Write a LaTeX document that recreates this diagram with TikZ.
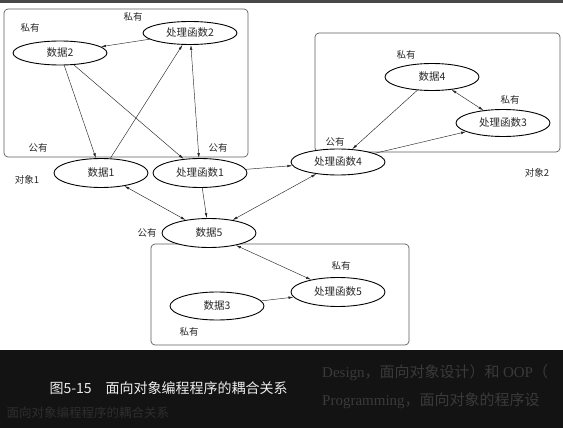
\documentclass[tikz,border=0pt]{standalone}
\usepackage{fontspec}
\setmainfont{Noto Sans CJK SC}
\newfontfamily\latinserif{Liberation Serif}
\usetikzlibrary{arrows.meta,shapes.geometric}
\definecolor{figK}{RGB}{40,40,40}
\definecolor{figBox}{RGB}{95,95,95}
\definecolor{figBand}{RGB}{19,19,19}
\definecolor{figTop}{RGB}{72,72,72}
\definecolor{figCap}{RGB}{236,236,236}
\definecolor{figDim}{RGB}{58,58,58}

\begin{document}
\begin{tikzpicture}[x=1pt,y=-1pt,>={Latex[length=5pt,width=2.6pt]},
  obj/.style={draw=black,fill=white,line width=0.9pt,ellipse,minimum width=94pt,minimum height=27pt,inner sep=0pt,font=\fontsize{10.5}{12}\selectfont,text=figK},
  lab/.style={font=\fontsize{9.5}{11}\selectfont,text=figK},
  box/.style={draw=figBox,line width=0.7pt,rounded corners=4pt},
  link/.style={figK,line width=0.45pt},
  dim/.style={anchor=west,text=figDim,font=\fontsize{15}{18}\selectfont,inner sep=0pt}]
\useasboundingbox (0,0) rectangle (563,428);
\fill[white] (0,0) rectangle (563,428);
\fill[figTop] (0,0) rectangle (563,3);
% objects
\draw[box] (4,9) rectangle (248,157);
\draw[box] (315,33) rectangle (560,152);
\draw[box] (151,244) rectangle (409,345);
\node[obj,minimum height=23pt] (func2) at (190,33) {处理函数2};
\node[obj,minimum height=24pt] (data2) at (60,53) {数据2};
\node[obj,minimum height=29pt] (data1) at (101,173) {数据1};
\node[obj,minimum height=29pt] (func1) at (200,173) {处理函数1};
\node[obj] (data4) at (432,77) {数据4};
\node[obj] (func3) at (503,123) {处理函数3};
\node[obj,minimum height=26pt] (func4) at (338,162) {处理函数4};
\node[obj,minimum height=29pt] (data5) at (209,233) {数据5};
\node[obj,minimum height=28pt] (data3) at (217,306) {数据3};
\node[obj,minimum height=29pt] (func5) at (338,292) {处理函数5};
% labels
\node[lab] (pri1) at (133,17) {私有};
\node[lab] (pri2) at (30,28) {私有};
\node[lab] (pub1) at (38,148) {公有};
\node[lab] (pub2) at (218,148) {公有};
\node[lab] (obj1) at (27,180) {对象1};
\node[lab] (pri3) at (406,55) {私有};
\node[lab] (pri4) at (510,100) {私有};
\node[lab] (pub3) at (335,142) {公有};
\node[lab] (obj2) at (537,173) {对象2};
\node[lab] (pub4) at (147,233) {公有};
\node[lab] (pri5) at (341,266) {私有};
\node[lab] (pri6) at (189,332) {私有};
% links
\draw[link,->] (func2) -- (data2);
\draw[link,->] (data2) -- (data1);
\draw[link,->] (data2) -- (func1);
\draw[link,->] (data1) -- (func2);
\draw[link,<->] (func2) -- (func1);
\draw[link,->] (func1) -- (func4);
\draw[link,<->] (data1) -- (data5);
\draw[link,->] (func1) -- (data5);
\draw[link,<->] (data5) -- (func4);
\draw[link,->] (data4) -- (func4);
\draw[link,->] (func4) -- (func3);
\draw[link,<->] (data4) -- (func3);
\draw[link,<->] (data5) -- (func5);
\draw[link,->] (data3) -- (func5);
% caption band
\fill[figBand] (0,350) rectangle (563,428);
\node[dim] (txt2) at (322,373) {{\latinserif Design}，面向对象设计）和 {\latinserif OOP}（};
\node[dim] (txt3) at (322,401) {{\latinserif Programming}，面向对象的程序设};
\node[anchor=west,text=figDim!70!figBand,font=\fontsize{12.5}{14}\selectfont] (txt4) at (3,413) {面向对象编程程序的耦合关系};
\node[anchor=west,text=figCap,font=\fontsize{14}{16}\selectfont] (cap) at (46,388) {图5-15\quad 面向对象编程程序的耦合关系};
\end{tikzpicture}
\end{document}
